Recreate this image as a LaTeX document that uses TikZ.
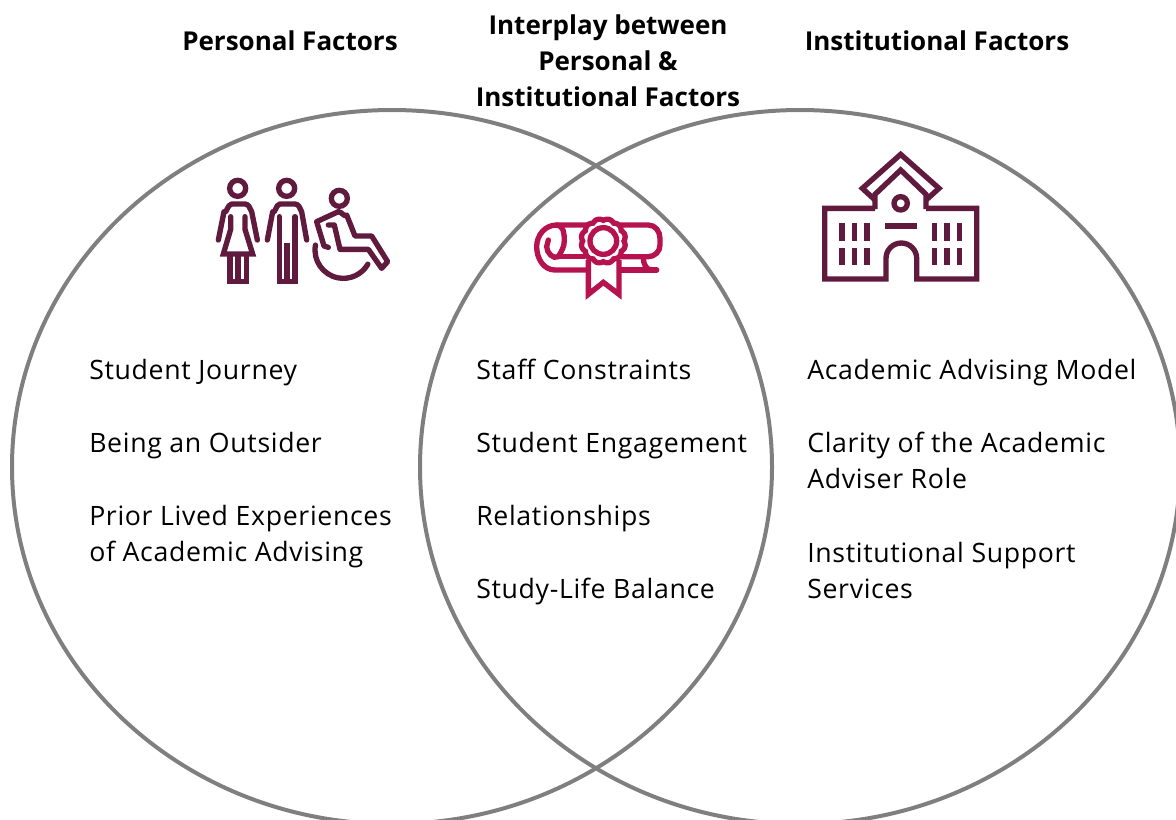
\documentclass[tikz,border=0pt]{standalone}
\usepackage{fontspec}
\setmainfont{Open Sans}
\newfontfamily\itemfont[LetterSpace=2.5]{Open Sans}
\usepackage{xcolor}
\usepackage{tikz}
\usetikzlibrary{positioning, shapes.geometric}
\definecolor{maroon}{HTML}{5F1A3D}
\definecolor{crimson}{HTML}{B5124F}
\definecolor{ringgray}{HTML}{7F7F7F}

\begin{document}
\begin{tikzpicture}[
		x=0.75pt, y=-0.75pt,
		node distance=0pt,
		ring/.style={draw=ringgray, line width=3pt, ellipse, minimum width=570pt, minimum height=535.5pt, inner sep=0pt},
		heading/.style={font=\fontsize{19.5}{27}\selectfont\bfseries, align=center, inner sep=0pt},
		item/.style={font=\fontsize{20}{27}\selectfont\itemfont, align=left, anchor=base west, inner sep=0pt},
		icon/.style={draw=#1, line width=4pt, line join=miter, fill=none},
		zoomed/.style={x=0.25pt, y=-0.25pt}
		]
		\useasboundingbox (0,0) rectangle (1176,819);
		
		% Two big rings
		\node[ring] (leftring) at (392,467) {};
		\node[ring] (rightring) at (800,467) {};
		
		% Headings
		\node[heading] (personal) at (290,41) {Personal Factors};
		\node[heading] (interplay) at (608,61) {Interplay between\\Personal \&\\Institutional Factors};
		\node[heading] (institutional) at (937,41) {Institutional Factors};
		
		% Left column
		\node[item] (journey) at (89,379) {Student Journey};
		\node[item] (outsider) at (89,452) {Being an Outsider};
		\node[item] (prior) at (89,561) {Prior Lived Experiences\\of Academic Advising};
		
		% Middle column
		\node[item] (staff) at (476,379) {Staff Constraints};
		\node[item] (engagement) at (476,452) {Student Engagement};
		\node[item] (relations) at (476,525) {Relationships};
		\node[item] (balance) at (476,598) {Study-Life Balance};
		
		% Right column
		\node[item] (model) at (807,379) {Academic Advising Model};
		\node[item] (clarity) at (807,488) {Clarity of the Academic\\Adviser Role};
		\node[item] (support) at (807,598) {Institutional Support\\Services};
		
		% People icon
		\begin{scope}[shift={(200,170)}, zoomed, icon=maroon]
			\draw (113,55) circle (24);
			\draw[line cap=round, line join=round] (55,210) -- (72,125) to[out=-60,in=180] (95,102) -- (135,102) to[out=0,in=120] (155,125) -- (172,210);
			\draw[line cap=round] (92,140) -- (92,178) -- (70,252) -- (158,252) -- (135,178) -- (135,140);
			\draw (90,252) -- (90,335) -- (140,335) -- (140,252);
			\draw (114,252) -- (114,335);
			\draw (260,55) circle (24);
			\draw[line cap=round, line join=round] (202,210) -- (218,125) to[out=-60,in=180] (240,102) -- (285,102) to[out=0,in=120] (305,125) -- (320,210);
			\draw[line cap=round] (238,140) -- (238,335) -- (285,335) -- (285,140);
			\draw (261,218) -- (261,335);
			\draw (418,85) circle (24);
			\draw[line join=round, line cap=round] (415,125) -- (350,155) -- (372,228) -- (385,232);
			\draw[line join=round, line cap=round] (415,125) to[out=0,in=-120] (440,135) -- (465,198) -- (515,198) -- (563,275) -- (545,295) -- (505,238) -- (420,238) -- (403,165) -- (385,165);
			\draw[line cap=round] (430,240) ++(190:85) arc (190:30:85);
		\end{scope}
		
		% Diploma icon
		\begin{scope}[shift={(520,205)}, zoomed, icon=crimson]
			\draw[line cap=round] (200,60) -- (110,60) to[out=180,in=90] (50,125) to[out=-90,in=180] (105,195) -- (200,195);
			\draw[line cap=round] (110,60) to[out=0,in=90] (133,105) to[out=-90,in=60] (115,155) to[out=-150,in=-90] (80,125) -- (85,105);
			\draw (115,155) -- (195,155);
			\draw[line cap=round] (300,60) -- (385,60) to[out=0,in=90] (420,100) -- (420,120) to[out=-90,in=0] (385,155) -- (300,155);
			\draw[line cap=round] (300,195) -- (410,195);
			\draw[line cap=round] (370,158) to[out=-90,in=180] (395,195);
			\draw[miter limit=10] (205,165) -- (205,268) -- (250,232) -- (297,268) -- (297,165);
			\draw[fill=white] plot[domain=0:360, samples=181, smooth] ({250+(62+5*abs(sin(6*\x)))*cos(\x)}, {108+(62+5*abs(sin(6*\x)))*sin(\x)}) -- cycle;
			\draw (250,108) circle (40);
		\end{scope}
		
		% School icon
		\begin{scope}[shift={(810,145)}, zoomed, icon=maroon]
			\draw (195,165) -- (157,130) -- (272,28) -- (387,130) -- (348,165);
			\draw (195,192) -- (195,148) -- (272,75) -- (348,148) -- (348,192);
			\draw (195,190) -- (44,190) -- (44,402) -- (228,402) -- (228,340) arc (180:360:46) -- (320,402) -- (500,402) -- (500,190) -- (348,190);
			\draw (272,175) circle (20);
			\fill[maroon, draw=none] (225,235) rectangle (320,251);
			\foreach \wx in {87,125,163,365,402,440}
				\foreach \wy in {235,308}
					\fill[maroon, draw=none] (\wx,\wy) rectangle ++(17,52);
		\end{scope}
		
	\end{tikzpicture}
\end{document}
